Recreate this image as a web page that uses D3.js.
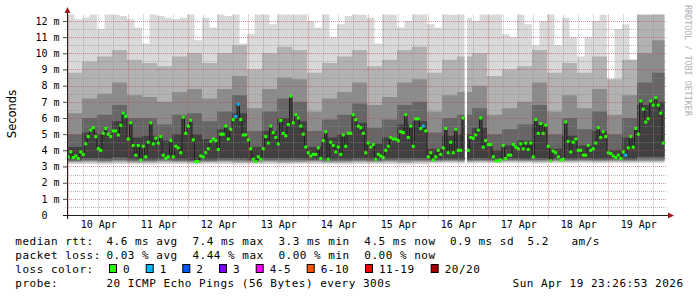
<!DOCTYPE html>
<html>
<head>
<meta charset="utf-8">
<script src="https://cdn.jsdelivr.net/npm/d3@7"></script>
<style>
  body { margin: 0; background: #fff; }
  svg text { font-family: "DejaVu Sans Mono", monospace; fill: #000; }
</style>
</head>
<body>
<svg id="chart" width="697" height="297"></svg>
<script>
// hourly median rtt in ms, starting Apr 9 11:30 UTC (null = no data)
var medianMs = [
 3.6,3.9,3.55,3.65,3.5,3.9,3.75,4.4,4.85,5.25,5.4,4.85,4.1,4.0,5.05,5.35,5.0,4.85,5.2,5.2,4.95,5.55,6.3,6.1,
 4.7,5.7,4.3,3.7,4.3,3.4,4.25,3.6,4.5,5.7,4.4,4.75,4.45,4.85,3.7,3.5,3.6,4.6,3.6,4.25,4.15,3.85,6.05,5.05,5.5,
 5.85,4.65,3.3,3.3,3.65,3.6,3.85,4.1,4.55,4.7,4.6,4.05,5.0,5.0,5.5,4.7,5.3,5.9,6.1,6.85,5.9,4.95,4.95,4.65,4.1,
 3.45,3.3,3.6,3.45,4.1,4.85,4.45,5.5,5.1,4.8,4.4,5.85,5.05,4.9,5.6,7.35,5.7,6.2,6.0,5.5,5.0,4.2,3.85,
 3.65,3.75,3.75,4.15,3.5,4.6,5.15,3.45,4.5,4.3,3.9,4.2,3.75,4.95,4.25,5.05,5.05,6.2,5.9,5.5,5.4,5.05,3.85,4.45,
 4.2,4.35,3.45,3.75,3.65,3.55,4.0,4.25,4.8,4.7,4.7,4.6,5.15,5.1,6.2,4.8,5.5,4.25,5.95,5.95,5.35,5.5,5.2,3.6,
 3.85,3.4,3.6,4.0,3.75,4.15,5.35,3.85,4.5,3.85,5.3,4.0,4.0,6.0,null,4.0,4.8,4.75,4.95,5.25,6.0,4.2,4.6,4.35,
 4.35,3.6,3.35,3.35,3.4,4.3,3.5,3.7,3.7,4.35,4.2,4.1,4.4,4.1,4.45,4.05,4.45,3.6,5.9,5.05,5.65,5.05,5.55,4.25,
 3.35,3.95,3.85,3.6,3.4,3.45,5.75,4.55,3.9,4.5,4.7,4.0,4.0,3.7,3.7,4.3,4.0,4.1,4.45,5.4,4.8,5.15,4.85,3.85,
 3.8,3.65,3.55,3.7,3.5,3.9,3.7,4.15,4.85,4.2,5.35,5.0,7.05,6.55,5.75,5.95,7.05,6.8,7.25,6.8,6.3,4.45
];
// hours with packet loss and the number of lost pings
var lossHours = [67, 68, 142, 223];
var lossCounts = [1, 1, 1, 1];

// smoke: sorted ping bands, 6-hour columns (ping20 in 3-hour columns, 13 = above graph)
var ping1  = [3.15,3.15,3.12,3.15,3.14,3.12,3.15,3.15,3.12,3.14,3.15,3.12,3.14,3.15,3.12,3.15,3.15,3.14,3.12,3.15,
              3.14,3.15,3.12,3.14,3.18,3.2,3.18,3.2,3.2,3.22,3.2,3.18,3.22,3.2,3.22,3.2,3.22,3.2,3.22,3.22];
var ping3  = [3.24,3.25,3.22,3.25,3.22,3.22,3.25,3.24,3.22,3.24,3.25,3.22,3.22,3.25,3.22,3.24,3.25,3.22,3.22,3.25,
              3.24,3.25,3.22,3.24,3.26,3.28,3.26,3.28,3.27,3.3,3.28,3.26,3.3,3.28,3.3,3.28,3.3,3.28,3.3,3.3];
var ping5  = [3.3,3.32,3.3,3.32,3.3,3.3,3.32,3.3,3.28,3.3,3.32,3.3,3.3,3.32,3.3,3.3,3.32,3.3,3.3,3.32,
              3.3,3.32,3.3,3.32,3.32,3.34,3.32,3.34,3.33,3.36,3.34,3.32,3.36,3.34,3.36,3.34,3.36,3.34,3.36,3.36];
var ping7  = [3.36,3.38,3.36,3.4,3.36,3.36,3.38,3.36,3.34,3.36,3.38,3.38,3.35,3.38,3.38,3.38,3.38,3.36,3.36,3.38,
              3.36,3.38,3.38,3.38,3.38,3.4,3.38,3.4,3.38,3.42,3.4,3.4,3.42,3.4,3.42,3.4,3.42,3.4,3.45,3.45];
var ping9  = [3.45,3.5,3.48,3.55,3.45,3.45,3.48,3.45,3.42,3.45,3.5,3.5,3.42,3.5,3.5,3.5,3.45,3.45,3.45,3.5,
              3.45,3.48,3.5,3.5,3.45,3.48,3.45,3.5,3.45,3.5,3.48,3.5,3.48,3.48,3.5,3.48,3.48,3.48,3.6,3.6];
var ping12 = [4.2,5.1,5.0,5.8,4.8,4.9,4.6,5.0,5.0,4.7,5.3,6.3,4.2,5.2,6.0,5.8,4.2,4.8,5.0,5.7,
              4.4,4.8,5.6,5.8,4.1,4.9,5.0,5.4,4.0,4.3,4.6,5.6,4.1,4.9,4.3,5.2,4.0,4.8,6.8,7.0];
var ping14 = [5.0,6.0,6.2,6.8,6.0,6.0,5.6,6.2,6.3,5.8,6.4,7.4,5.2,6.4,7.2,7.0,5.2,5.9,6.2,6.9,
              5.4,5.9,6.8,7.0,5.1,6.0,6.2,6.6,5.0,5.3,5.6,6.8,5.0,6.0,5.3,6.4,5.0,6.0,8.2,8.8];
var ping16 = [6.3,7.2,7.5,8.2,7.4,7.3,7.0,7.6,7.8,7.2,7.8,8.6,6.6,7.8,8.5,8.4,6.4,7.2,7.6,8.2,
              6.8,7.3,8.2,8.4,6.4,7.4,7.6,8.0,6.2,6.6,7.0,8.2,6.4,7.4,6.6,7.8,6.2,7.4,10.0,10.8];
var ping18 = [8.8,9.5,9.8,10.2,9.6,9.4,9.2,9.8,10.0,9.4,10.0,10.5,9.0,10.0,10.4,10.2,8.8,9.4,9.8,10.2,
              9.2,9.6,10.2,10.4,8.8,9.6,9.8,10.0,8.6,9.0,9.2,10.2,8.8,9.4,8.8,9.8,8.4,9.6,12.4,13];
var ping20 = [13,12.1,12.2,13,11.5,13,12.4,12.3,12.1,11.6,10.6,13,12.3,12.2,12.1,12.2,13,10.8,12.2,11.6,
              13,12.3,13,10.6,11.2,13,12.4,11.8,13,13,12.4,13,12.0,11.6,13,11.0,11.8,12.3,13,12.4,
              12.2,10.6,13,12.4,11.6,12.0,13,13,11.8,11.6,13,12.4,13,12.2,12.0,13,12.4,13,11.2,11.0,
              12.4,11.8,10.5,12.0,13,10.5,12.2,11.0,9.8,11.0,12.0,12.4,8.2,11.5,11.8,9.6,13,13,13,13];

var yTicks = [0,1,2,3,4,5,6,7,8,9,10,11,12];
var rttStats = [["4.6 ms", "avg"], ["7.4 ms", "max"], ["3.3 ms", "min"], ["4.5 ms", "now"], ["0.9 ms", "sd"]];
var lossStats = [["0.03 %", "avg"], ["4.44 %", "max"], ["0.00 %", "min"], ["0.00 %", "now"]];
var lossLabels = ["0", "1", "2", "3", "4-5", "6-10", "11-19", "20/20"];
var lossColors = ["#26ff00", "#00b8ff", "#0059ff", "#7e00ff", "#ff00ff", "#ff5500", "#ff0000", "#a10000"];

var svg = d3.select("#chart");
var HOUR = 3600e3;
var start = Date.UTC(2026, 3, 9, 11, 30);
var end = start + 240 * HOUR;

var x = d3.scaleUtc().domain([start, end]).range([67, 667]);
var y = d3.scaleLinear().domain([0, 12.4]).range([215, 14.5]);

svg.append("defs").append("clipPath").attr("id", "clip")
  .append("rect").attr("x", 67).attr("y", 14.5).attr("width", 600).attr("height", 200.5);

// smoke bands, outer to inner
var bands = [
  {lo: ping1, hi: ping20, color: "#d9d9d9"},
  {lo: ping3, hi: ping18, color: "#b2b2b2"},
  {lo: ping5, hi: ping16, color: "#8c8c8c"},
  {lo: ping7, hi: ping14, color: "#666666"},
  {lo: ping9, hi: ping12, color: "#404040"}
];
function pick(arr, i) { return arr[Math.floor(i * arr.length / 240)]; }

var smokeG = svg.append("g").attr("clip-path", "url(#clip)");
var bandPts = bands.map(function(){ return []; });
medianMs.forEach(function(m, i) {
  if (m == null) { bandPts.forEach(function(p){ p.push({gap: true}); }); return; }
  var lo = m, hi = m;
  for (var b = bands.length - 1; b >= 0; b--) {
    lo = Math.min(lo, pick(bands[b].lo, i));
    hi = Math.max(hi, pick(bands[b].hi, i));
    bandPts[b].push({x: x(start + i * HOUR), lo: lo, hi: hi});
    bandPts[b].push({x: x(start + (i + 1) * HOUR), lo: lo, hi: hi});
  }
});
var area = d3.area().defined(function(d){ return !d.gap; })
  .x(function(d){ return d.x; }).y0(function(d){ return y(d.lo); }).y1(function(d){ return y(d.hi); });
bands.forEach(function(b, k) {
  smokeG.append("path").attr("d", area(bandPts[k])).attr("fill", b.color);
});

// grid
var grid = svg.append("g");
var minorY = d3.range(0.5, 12.4, 0.5).filter(function(v){ return v % 1 !== 0; });
grid.selectAll(".hmin").data(minorY).enter().append("line")
  .attr("x1", 65).attr("x2", 667).attr("y1", function(d){ return Math.round(y(d)) + 0.5; })
  .attr("y2", function(d){ return Math.round(y(d)) + 0.5; })
  .attr("stroke", "#8c8c8c").attr("stroke-opacity", 0.6).attr("stroke-dasharray", "1,1");
var sixHours = d3.utcHour.every(6).range(new Date(start), new Date(end));
var minorX = sixHours.filter(function(d){ return d.getUTCHours() !== 12; });
var majorX = sixHours.filter(function(d){ return d.getUTCHours() === 12; });
grid.selectAll(".vmin").data(minorX).enter().append("line")
  .attr("x1", function(d){ return Math.round(x(d)) + 0.5; }).attr("x2", function(d){ return Math.round(x(d)) + 0.5; })
  .attr("y1", 14.5).attr("y2", 217)
  .attr("stroke", "#8c8c8c").attr("stroke-opacity", 0.6).attr("stroke-dasharray", "1,1");
grid.selectAll(".hmaj").data(yTicks.slice(1)).enter().append("line")
  .attr("x1", 63).attr("x2", 667).attr("y1", function(d){ return Math.round(y(d)) + 0.5; })
  .attr("y2", function(d){ return Math.round(y(d)) + 0.5; })
  .attr("stroke", "#c04848").attr("stroke-opacity", 0.6).attr("stroke-dasharray", "1,1");
grid.selectAll(".vmaj").data(majorX).enter().append("line")
  .attr("x1", function(d){ return Math.round(x(d)) + 0.5; }).attr("x2", function(d){ return Math.round(x(d)) + 0.5; })
  .attr("y1", 14.5).attr("y2", 219)
  .attr("stroke", "#c04848").attr("stroke-opacity", 0.6).attr("stroke-dasharray", "1,1");

// median line and loss coloured squares
var medPts = [];
medianMs.forEach(function(m, i) {
  if (m == null) { medPts.push({gap: true}); return; }
  medPts.push({x: x(start + i * HOUR), m: m});
  medPts.push({x: x(start + (i + 1) * HOUR), m: m});
});
svg.append("path")
  .attr("d", d3.line().defined(function(d){ return !d.gap; }).x(function(d){ return d.x; }).y(function(d){ return y(d.m); })(medPts))
  .attr("fill", "none").attr("stroke", "#202020").attr("stroke-width", 1);
svg.append("g").selectAll("rect")
  .data(medianMs.map(function(m, i){ return {m: m, i: i}; }).filter(function(d){ return d.m != null; }))
  .enter().append("rect")
  .attr("x", function(d){ return x(start + (d.i + 0.5) * HOUR) - 1.5; })
  .attr("y", function(d){ return y(d.m) - 1.5; })
  .attr("width", 3).attr("height", 3)
  .attr("fill", function(d){
    var k = lossHours.indexOf(d.i);
    var c = k < 0 ? 0 : lossCounts[k];
    return lossColors[c <= 3 ? c : c <= 5 ? 4 : c <= 10 ? 5 : c < 20 ? 6 : 7];
  });

// axes
var yAxis = d3.axisLeft(y).tickValues(yTicks).tickSize(4).tickPadding(3.5)
  .tickFormat(function(d){ return d === 0 ? "0\u00a0\u00a0" : d + "\u00a0m"; });
var yg = svg.append("g").attr("transform", "translate(67,0)").call(yAxis);
yg.select(".domain").remove();
yg.selectAll("line").attr("stroke", "#555");
yg.selectAll("text").attr("font-size", 10).attr("font-family", "DejaVu Sans Mono");

var xAxis = d3.axisBottom(x).ticks(d3.utcDay.every(1)).tickSize(0).tickPadding(6.2)
  .tickFormat(d3.utcFormat("%d %b"));
var xg = svg.append("g").attr("transform", "translate(0,215)").call(xAxis);
xg.select(".domain").remove();
xg.selectAll("text").attr("font-size", 10).attr("font-family", "DejaVu Sans Mono");

svg.append("line").attr("x1", 63).attr("x2", 669).attr("y1", 215.5).attr("y2", 215.5).attr("stroke", "#202020");
svg.append("line").attr("x1", 67.5).attr("x2", 67.5).attr("y1", 219).attr("y2", 12).attr("stroke", "#202020");
svg.append("path").attr("d", "M668,212.5L674,215.5L668,218.5Z").attr("fill", "#9b1c1c");
svg.append("path").attr("d", "M64.5,13L67.5,7L70.5,13Z").attr("fill", "#9b1c1c");

svg.append("text").attr("transform", "translate(16,114) rotate(-90)").attr("text-anchor", "middle")
  .style("font-family", "DejaVu Sans").attr("font-size", 11.5).text("Seconds");
svg.append("text").attr("transform", "translate(685,5) rotate(90)")
  .attr("font-size", 8.4).style("fill", "#b0b0b0").text("RRDTOOL / TOBI OETIKER");

// legend
var leg = svg.append("g").attr("font-size", 11).style("letter-spacing", "0.5px");
function lt(xp, yp, s) { leg.append("text").attr("x", xp).attr("y", yp).style("white-space", "pre").text(s); }
var statX = [106.5, 192.5, 278.5, 364.3, 450];
lt(15.3, 245, "median rtt:");
rttStats.forEach(function(s, i){ lt(statX[i], 245, s[0] + " " + s[1]); });
lt(527.5, 245, "5.2");
lt(571.5, 245, "am/s");
lt(15.3, 259, "packet loss:");
lossStats.forEach(function(s, i){ lt(statX[i], 259, s[0] + " " + s[1]); });
lt(15.3, 273, "loss color:");
var boxX = [109, 145.7, 182.3, 219, 255.7, 306.7, 365, 430.7];
lossLabels.forEach(function(l, i) {
  leg.append("rect").attr("x", boxX[i] + 0.5).attr("y", 264.5).attr("width", 7).attr("height", 8)
    .attr("fill", lossColors[i]).attr("stroke", "#000").attr("stroke-width", 1);
  lt(boxX[i] + 14, 273, l);
});
lt(15.3, 287, "probe:");
lt(106.5, 287, "20 ICMP Echo Pings (56 Bytes) every 300s");
lt(512.6, 287, "Sun Apr 19 23:26:53 2026");
</script>
</body>
</html>
